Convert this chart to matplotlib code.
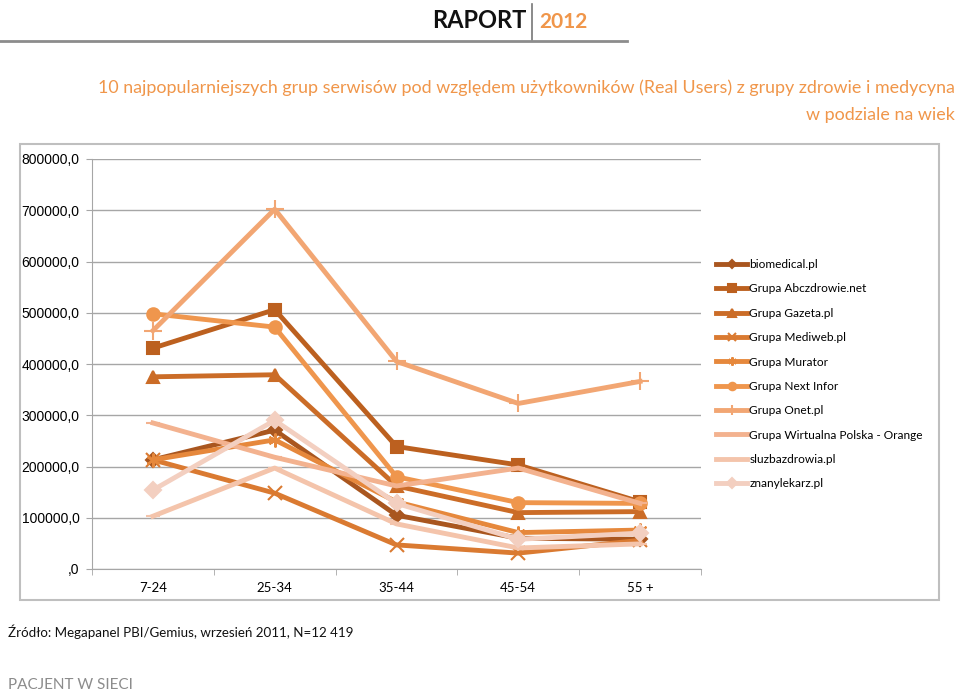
import matplotlib.pyplot as plt
from matplotlib.patches import Rectangle
from matplotlib.lines import Line2D

# dane (Real Users wg wieku)
age_groups = ['7-24', '25-34', '35-44', '45-54', '55 +']

biomedical = [213000, 271000, 105000, 60000, 58000]
abczdrowie = [431000, 506000, 239000, 203000, 131000]
gazeta = [375000, 379000, 162000, 110000, 112000]
mediweb = [213000, 148000, 47000, 31000, 56000]
murator = [213000, 252000, 131000, 71000, 76000]
next_infor = [498000, 472000, 180000, 129500, 128000]
onet = [465000, 702000, 405000, 323000, 366000]
wp = [285000, 218000, 162000, 197000, 128000]
sluzbazdrowia = [103000, 197000, 88000, 41000, 49000]
znanylekarz = [154000, 290000, 128000, 58000, 70000]

series_names = ['biomedical.pl', 'Grupa Abczdrowie.net', 'Grupa Gazeta.pl', 'Grupa Mediweb.pl',
                'Grupa Murator', 'Grupa Next Infor', 'Grupa Onet.pl',
                'Grupa Wirtualna Polska - Orange', 'sluzbazdrowia.pl', 'znanylekarz.pl']

y_ticks = [0, 100000, 200000, 300000, 400000, 500000, 600000, 700000, 800000]
y_tick_labels = [',0', '100000,0', '200000,0', '300000,0', '400000,0',
                 '500000,0', '600000,0', '700000,0', '800000,0']

title_1 = '10 najpopularniejszych grup serwisów pod względem użytkowników (Real Users) z grupy zdrowie i medycyna'
title_2 = 'w podziale na wiek'
source = 'Źródło: Megapanel PBI/Gemius, wrzesień 2011, N=12 419'

all_series = [biomedical, abczdrowie, gazeta, mediweb, murator,
              next_infor, onet, wp, sluzbazdrowia, znanylekarz]

colors = ['#A9561F', '#BC601F', '#CB6C27', '#DA7A31', '#E6883C',
          '#EF964D', '#F2A673', '#F3B28F', '#F4C4AB', '#F3CFC0']
markers = ['D', 's', '^', 'x', (6, 2, 0), 'o', '+', '_', '_', 'D']
msizes = [7, 9, 9, 10, 10, 9, 13, 10, 10, 8]

fig = plt.figure(figsize=(9.6, 6.93), dpi=100)
W, H = 960, 693

def fx(px):
    return px / W

def fy(py):
    return 1 - py / H

# naglowek
fig.text(fx(526), fy(21), 'RAPORT', ha='right', va='center', fontsize=17,
         fontweight='bold', family='Lato', color='#111111')
fig.text(fx(539), fy(22), '2012', ha='left', va='center', fontsize=15,
         fontweight='bold', family='Lato', color='#F0964A')
fig.add_artist(Line2D([fx(532), fx(532)], [fy(4), fy(40)], color='#777777', lw=1.2))
fig.add_artist(Line2D([0, fx(627)], [fy(41), fy(41)], color='#8C8C8C', lw=2))

fig.text(fx(955), fy(88), title_1, ha='right', va='center', fontsize=12.9,
         family='Lato', color='#F0964A')
fig.text(fx(955), fy(115), title_2, ha='right', va='center', fontsize=12.9,
         family='Lato', color='#F0964A')

# ramka wykresu
fig.add_artist(Rectangle((fx(20), fy(600)), fx(939) - fx(20), fy(144) - fy(600),
                         fill=False, edgecolor='#BFBFBF', lw=1.5))

ax = fig.add_axes([fx(92), fy(569), fx(701) - fx(92), fy(159) - fy(569)])

x = list(range(len(age_groups)))
for i, (vals, name) in enumerate(zip(all_series, series_names)):
    ax.plot(x, vals, color=colors[i], lw=3.5, marker=markers[i], markersize=msizes[i],
            markerfacecolor=colors[i], markeredgecolor=colors[i], markeredgewidth=1.5,
            label=name, zorder=3 + i, solid_joinstyle='round')

ax.set_xlim(-0.5, len(age_groups) - 0.5)
ax.set_ylim(0, 800000)
ax.set_yticks(y_ticks)
ax.set_yticklabels(y_tick_labels, family='Liberation Sans', fontsize=10)
ax.set_xticks(x)
ax.set_xticklabels(age_groups, family='Lato', fontsize=9.5)
ax.set_xticks([i - 0.5 for i in range(len(age_groups) + 1)], minor=True)
ax.tick_params(axis='x', which='major', length=0, pad=9)
ax.tick_params(axis='x', which='minor', length=4, color='#A6A6A6', direction='out')
ax.tick_params(axis='y', length=4, color='#A6A6A6', direction='out', pad=5)
ax.grid(axis='y', color='#A6A6A6', lw=1)
ax.set_axisbelow(True)
for s in ['top', 'right']:
    ax.spines[s].set_visible(False)
for s in ['left', 'bottom']:
    ax.spines[s].set_color('#A6A6A6')

leg = ax.legend(loc='upper left', bbox_to_anchor=(fx(716), fy(259)),
                bbox_transform=fig.transFigure, frameon=False,
                prop={'family': 'Lato', 'size': 8.6}, labelspacing=1.12,
                handlelength=2.6, handletextpad=0.2, borderpad=0, borderaxespad=0,
                markerscale=0.6)

fig.text(fx(8), fy(632), source, ha='left', va='center', fontsize=9.6,
         family='Lato', color='#111111')
fig.text(fx(8), fy(685), 'PACJENT W SIECI', ha='left', va='center', fontsize=11,
         family='Lato', color='#8C8C8C')

plt.savefig('out.png', dpi=100)
